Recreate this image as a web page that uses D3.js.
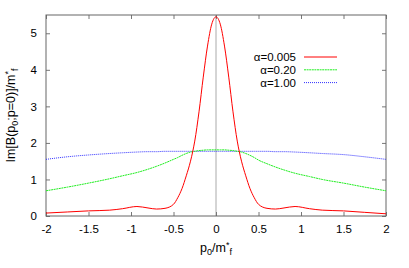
<!DOCTYPE html>
<html>
<head>
<meta charset="utf-8">
<script src="https://cdn.jsdelivr.net/npm/d3@7"></script>
<style>
  body { margin: 0; background: #fff; }
  text { font-family: "Liberation Sans", Arial, sans-serif; }
</style>
</head>
<body>
<div id="chart"></div>
<script>
// momentum grid shared by the three curves
let p0 = [-2, -1.75, -1.5, -1.25, -1.1, -0.93, -0.8, -0.7, -0.6, -0.5, -0.45, -0.4, -0.35, -0.3, -0.25, -0.2, -0.15, -0.1, -0.05, -0.025,
          0, 0.025, 0.05, 0.1, 0.15, 0.2, 0.25, 0.3, 0.35, 0.4, 0.45, 0.5, 0.6, 0.7, 0.8, 0.93, 1.1, 1.25, 1.5, 1.75, 2];
let alpha005 = [0.08, 0.11, 0.14, 0.16, 0.2, 0.26, 0.22, 0.19, 0.21, 0.32, 0.5, 0.75, 1.1, 1.5, 2.05, 2.85, 3.8, 4.65, 5.25, 5.4,
                5.45, 5.4, 5.25, 4.65, 3.8, 2.85, 2.05, 1.5, 1.1, 0.75, 0.5, 0.32, 0.21, 0.19, 0.22, 0.26, 0.2, 0.16, 0.14, 0.1, 0.06];
let alpha020 = [0.69, 0.79, 0.9, 1.02, 1.1, 1.19, 1.28, 1.36, 1.45, 1.55, 1.6, 1.66, 1.71, 1.75, 1.77, 1.79, 1.8, 1.81, 1.81, 1.81,
                1.81, 1.81, 1.81, 1.81, 1.8, 1.79, 1.77, 1.75, 1.71, 1.66, 1.6, 1.53, 1.43, 1.34, 1.26, 1.17, 1.08, 1.0, 0.9, 0.79, 0.69];
let alpha100 = [1.55, 1.62, 1.67, 1.71, 1.73, 1.75, 1.76, 1.76, 1.77, 1.77, 1.77, 1.77, 1.77, 1.77, 1.77, 1.77, 1.77, 1.77, 1.77, 1.77,
                1.77, 1.77, 1.77, 1.77, 1.77, 1.77, 1.77, 1.77, 1.77, 1.77, 1.77, 1.77, 1.77, 1.76, 1.76, 1.75, 1.73, 1.71, 1.68, 1.62, 1.55];
let xTicks = [-2, -1.5, -1, -0.5, 0, 0.5, 1, 1.5, 2];
let yTicks = [0, 1, 2, 3, 4, 5];
let legendLabels = ["α=0.005", "α=0.20", "α=1.00"];

let series = [
    {label: legendLabels[0], values: alpha005, color: "#ff0000", dash: null},
    {label: legendLabels[1], values: alpha020, color: "#22ee22", dash: "2,0.6"},
    {label: legendLabels[2], values: alpha100, color: "#3030ff", dash: "1,1"}
];

let width = 409, height = 268;
let margin = {top: 15, right: 23, bottom: 52, left: 46};
let w = width - margin.left - margin.right;
let h = height - margin.top - margin.bottom;

let svg = d3.select("#chart").append("svg")
    .attr("width", width)
    .attr("height", height);

let g = svg.append("g")
    .attr("transform", "translate(" + margin.left + "," + margin.top + ")");

let x = d3.scaleLinear().domain([-2, 2]).range([0, w]);
let y = d3.scaleLinear().domain([0, 5.5]).range([h, 0]);

// zero line
g.append("line")
    .attr("x1", x(0)).attr("x2", x(0))
    .attr("y1", 0).attr("y2", h)
    .style("stroke", "#aaa")
    .style("stroke-width", 1);

// axes with inward ticks, mirrored on top and right
let fmt = d => String(d);
let axBottom = g.append("g").attr("transform", "translate(0," + h + ")")
    .call(d3.axisBottom(x).tickValues(xTicks).tickSize(-4).tickPadding(9).tickFormat(fmt));
let axTop = g.append("g")
    .call(d3.axisTop(x).tickValues(xTicks).tickSize(-4).tickFormat(""));
let axLeft = g.append("g")
    .call(d3.axisLeft(y).tickValues(yTicks).tickSize(-4).tickPadding(9).tickFormat(fmt));
let axRight = g.append("g").attr("transform", "translate(" + w + ",0)")
    .call(d3.axisRight(y).tickValues(yTicks).tickSize(-4).tickFormat(""));

[axBottom, axTop, axLeft, axRight].forEach(a => {
    a.select(".domain").remove();
    a.selectAll(".tick line").style("stroke", "#777");
    a.selectAll("text").style("font-size", "11.5px").style("fill", "#000")
        .style("font-family", "'Liberation Sans', Arial, sans-serif");
});

g.append("rect")
    .attr("x", 0).attr("y", 0)
    .attr("width", w).attr("height", h)
    .style("fill", "none")
    .style("stroke", "#666")
    .style("stroke-width", 1);

let line = d3.line()
    .x((d, i) => x(p0[i]))
    .y(d => y(d))
    .curve(d3.curveMonotoneX);

series.slice().reverse().forEach(s => {
    g.append("path")
        .datum(s.values)
        .attr("d", line)
        .style("fill", "none")
        .style("stroke", s.color)
        .style("stroke-width", 1)
        .style("stroke-dasharray", s.dash);
});

// legend
let legend = g.selectAll(".legend")
    .data(series)
    .enter().append("g")
    .attr("transform", (d, i) => "translate(0," + (42 + i * 12.8) + ")");

legend.append("text")
    .attr("x", 250)
    .attr("y", 4)
    .style("text-anchor", "end")
    .style("font-size", "11.5px")
    .text(d => d.label);

legend.append("line")
    .attr("x1", 258).attr("x2", 291)
    .attr("y1", 0).attr("y2", 0)
    .style("stroke", d => d.color)
    .style("stroke-width", 1)
    .style("stroke-dasharray", d => d.dash);

// axis titles
let xl = svg.append("text")
    .attr("x", margin.left + x(0))
    .attr("y", 252)
    .style("text-anchor", "middle")
    .style("font-size", "12.5px");
xl.append("tspan").text("p");
xl.append("tspan").attr("dy", 3).style("font-size", "9px").text("0");
xl.append("tspan").attr("dy", -3).text("/m");
xl.append("tspan").attr("dy", -4).style("font-size", "9px").text("*");
xl.append("tspan").attr("dy", 7).style("font-size", "9px").text("f");

let yl = svg.append("text")
    .attr("transform", "translate(15," + (margin.top + h / 2) + ") rotate(-90)")
    .style("text-anchor", "middle")
    .style("font-size", "12.5px");
yl.append("tspan").text("Im[B(p");
yl.append("tspan").attr("dy", 3).style("font-size", "9px").text("0");
yl.append("tspan").attr("dy", -3).text(";p=0)]/m");
yl.append("tspan").attr("dy", -4).style("font-size", "9px").text("*");
yl.append("tspan").attr("dy", 7).style("font-size", "9px").text("f");
</script>
</body>
</html>
